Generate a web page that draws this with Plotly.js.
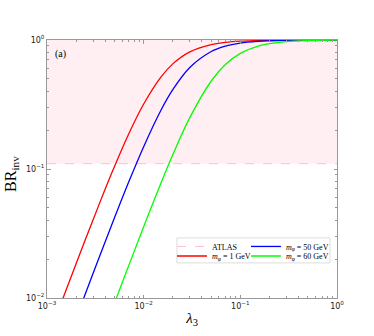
<!DOCTYPE html>
<html>
<head>
<meta charset="utf-8">
<script src="https://cdn.plot.ly/plotly-3.0.1.min.js"></script>
<style>
  body { margin: 0; background: #fff; }
  #plot { width: 374px; height: 336px; }
</style>
</head>
<body>
<div id="plot"></div>
<script>
// lambda_3 sample points (log spaced)
var lambda3 = [0.001, 0.0015, 0.002, 0.0025, 0.003, 0.004, 0.005, 0.007, 0.01, 0.015,
  0.02, 0.03, 0.05, 0.07, 0.1, 0.15, 0.2, 0.3, 0.5, 0.7, 1];

// BR_inv for each scalar mass
var br1GeV = [0.00467, 0.01045, 0.0184, 0.0285, 0.0405, 0.0699, 0.105, 0.187, 0.319, 0.514,
  0.653, 0.809, 0.921, 0.958, 0.979, 0.9906, 0.9947, 0.9976, 0.9991, 0.9996, 0.9998];
var br50GeV = [0.00175, 0.00393, 0.00697, 0.01085, 0.01554, 0.0273, 0.042, 0.0792, 0.149, 0.283,
  0.412, 0.612, 0.814, 0.896, 0.946, 0.9753, 0.986, 0.9937, 0.9977, 0.9988, 0.9994];
var br60GeV = [0.00037, 0.00083, 0.00148, 0.00231, 0.00332, 0.00589, 0.00917, 0.01782, 0.0357, 0.0769,
  0.129, 0.25, 0.481, 0.645, 0.787, 0.893, 0.937, 0.971, 0.9893, 0.9945, 0.9973];

// ATLAS upper limit on BR_inv, shaded up to 1
var atlasX = [0.001, 1];
var atlasLimit = [0.11, 0.11];
var atlasTop = [1, 1];

// tick labels
var xTickVals = [0.001, 0.01, 0.1, 1];
var xTickText = ["10<sup>−3</sup>", "10<sup>−2</sup>", "10<sup>−1</sup>", "10<sup>0</sup>"];
var yTickVals = [0.01, 0.1, 1];
var yTickText = ["10<sup>−2</sup>", "10<sup>−1</sup>", "10<sup>0</sup>"];

var serif = "Liberation Serif, DejaVu Serif, serif";

var traces = [
  // shaded excluded region between the limit and 1
  {
    x: atlasX, y: atlasTop, mode: "lines",
    line: {width: 0, color: "rgba(0,0,0,0)"},
    showlegend: false, hoverinfo: "skip"
  },
  {
    x: atlasX, y: atlasLimit, mode: "lines",
    fill: "tonexty", fillcolor: "rgba(255,192,203,0.25)",
    line: {width: 0, color: "rgba(0,0,0,0)"},
    showlegend: false, hoverinfo: "skip"
  },
  {
    x: atlasX, y: atlasLimit, mode: "lines", name: "ATLAS",
    line: {color: "#ffc0cb", width: 1, dash: "dash"},
    legend: "legend"
  },
  {
    x: lambda3, y: br1GeV, mode: "lines", name: "<i>m</i><sub><i>φ</i></sub> = 1 GeV",
    line: {color: "#ff0000", width: 1.3, shape: "spline"}, legend: "legend2"
  },
  {
    x: lambda3, y: br50GeV, mode: "lines", name: "<i>m</i><sub><i>φ</i></sub> = 50 GeV",
    line: {color: "#0000ff", width: 1.3, shape: "spline"}, legend: "legend3"
  },
  {
    x: lambda3, y: br60GeV, mode: "lines", name: "<i>m</i><sub><i>φ</i></sub> = 60 GeV",
    line: {color: "#00ff00", width: 1.3, shape: "spline"}, legend: "legend4"
  }
];

var axisStyle = {
  type: "log",
  showgrid: false,
  zeroline: false,
  showline: true,
  linecolor: "#999",
  linewidth: 1,
  mirror: "ticks",
  ticks: "inside",
  ticklen: 3.5,
  tickcolor: "#999",
  automargin: false,
  tickfont: {family: "DejaVu Sans, sans-serif", size: 8, color: "#222"},
  minor: {ticks: "inside", ticklen: 2, tickcolor: "#999", dtick: "D1"}
};

var legendStyle = {
  orientation: "v",
  xanchor: "left", yanchor: "top",
  bgcolor: "rgba(0,0,0,0)",
  borderwidth: 0,
  itemwidth: 30,
  font: {family: serif, size: 8, color: "#000"}
};

var layout = {
  width: 374,
  height: 336,
  margin: {l: 47, r: 37, t: 40, b: 38},
  paper_bgcolor: "#fff",
  plot_bgcolor: "#fff",
  showlegend: true,
  xaxis: Object.assign({}, axisStyle, {
    range: [-3, 0],
    tickvals: xTickVals, ticktext: xTickText,
    title: {text: "<i>λ</i><sub>3</sub>", font: {family: serif, size: 15, color: "#000"}, standoff: 2}
  }),
  yaxis: Object.assign({}, axisStyle, {
    range: [-2, 0],
    tickvals: yTickVals, ticktext: yTickText
  }),
  legend: Object.assign({}, legendStyle, {x: 0.431, y: 0.256}),
  legend2: Object.assign({}, legendStyle, {x: 0.431, y: 0.219}),
  legend3: Object.assign({}, legendStyle, {x: 0.686, y: 0.256}),
  legend4: Object.assign({}, legendStyle, {x: 0.686, y: 0.219}),
  shapes: [{
    type: "rect", xref: "paper", yref: "paper",
    x0: 0.448, x1: 0.976, y0: 0.136, y1: 0.233,
    line: {color: "#ddd", width: 1}, fillcolor: "rgba(255,255,255,0.8)", layer: "below"
  }],
  annotations: [
    {
      text: "(a)", xref: "paper", yref: "paper", x: 0.02, y: 0.975,
      xanchor: "left", yanchor: "top", showarrow: false,
      font: {family: serif, size: 10, color: "#000"}
    },
    {
      text: "BR<sub>inv</sub>", xref: "paper", yref: "paper", x: -0.125, y: 0.48,
      xanchor: "center", yanchor: "middle", textangle: -90, showarrow: false,
      font: {family: serif, size: 16, color: "#000"}
    }
  ]
};

Plotly.newPlot("plot", traces, layout, {displayModeBar: false, staticPlot: true});
</script>
</body>
</html>
